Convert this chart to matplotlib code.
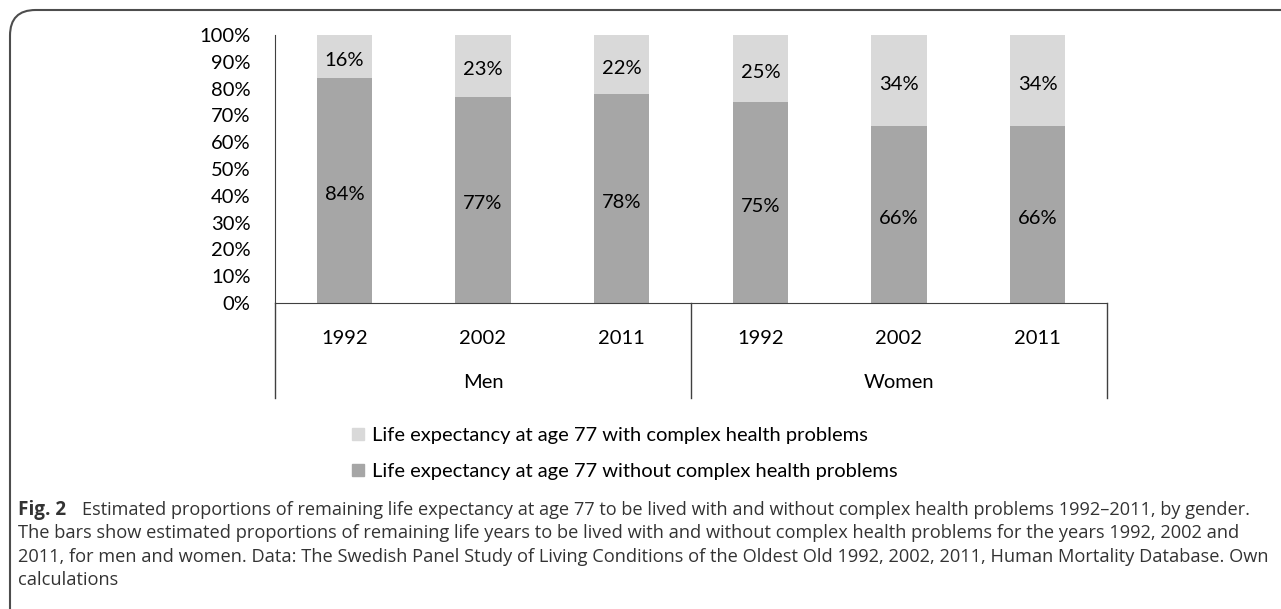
import matplotlib
matplotlib.use('Agg')
import matplotlib.pyplot as plt
from matplotlib.patches import FancyBboxPatch, Rectangle

# datos
grupos = ['Men', 'Women']
anios = ['1992', '2002', '2011', '1992', '2002', '2011']
sin_problemas = [84, 77, 78, 75, 66, 66]
con_problemas = [16, 23, 22, 25, 34, 34]
etiqueta_con = 'Life expectancy at age 77 with complex health problems'
etiqueta_sin = 'Life expectancy at age 77 without complex health problems'
yticks = list(range(0, 101, 10))

color_sin = '#a6a6a6'
color_con = '#d9d9d9'
fuente = 'Lato'
tam = 14.5

fig = plt.figure(figsize=(12.81, 6.09), dpi=100)
W, H = 1281, 609

# marco redondeado
marco = FancyBboxPatch((10 / W, -0.2), 1.2, 1 - 10 / H + 0.2,
                       boxstyle='round,pad=0,rounding_size=0.02',
                       transform=fig.transFigure, fill=False,
                       edgecolor='#4d4d4d', linewidth=1.5, mutation_aspect=W / H)
fig.patches.append(marco)

ax = fig.add_axes([275 / W, 1 - 303 / H, (1107 - 275) / W, (303 - 35) / H])
x = list(range(len(anios)))
ax.bar(x, sin_problemas, width=0.4, color=color_sin)
ax.bar(x, con_problemas, width=0.4, bottom=sin_problemas, color=color_con)

for xi, a, b in zip(x, sin_problemas, con_problemas):
    ax.text(xi, a / 2 - 1.5, f'{a}%', ha='center', va='center', fontsize=tam, family=fuente)
    ax.text(xi, a + b / 2 - 1.5, f'{b}%', ha='center', va='center', fontsize=tam, family=fuente)

ax.set_xlim(-0.5, len(anios) - 0.5)
ax.set_ylim(0, 100)
ax.set_yticks(yticks)
ax.set_yticklabels([f'{v}%' for v in yticks], fontsize=tam, family=fuente)
ax.tick_params(axis='y', length=0, pad=17.5)
ax.set_xticks([])
for s in ['top', 'right']:
    ax.spines[s].set_visible(False)
ax.spines['left'].set_color('#404040')
ax.spines['bottom'].set_color('#404040')

# etiquetas de categorias debajo del eje
escala = 268 / 100  # px por unidad
for xi, anio in zip(x, anios):
    ax.text(xi, -36 / escala, anio, ha='center', va='center', fontsize=tam,
            family=fuente, clip_on=False)
for i, g in enumerate(grupos):
    ax.text(i * 3 + 1, -80 / escala, g, ha='center', va='center', fontsize=tam,
            family=fuente, clip_on=False)
for xs in [-0.5, 2.5, 5.5]:
    ax.plot([xs, xs], [0, -95 / escala], color='#404040', linewidth=1, clip_on=False)

# leyenda manual
fig.patches.append(Rectangle((352 / W, 1 - 440 / H), 12 / W, 12 / H,
                             transform=fig.transFigure, color=color_con))
fig.text(372 / W, 1 - 435 / H, etiqueta_con, fontsize=tam, family=fuente, va='center')
fig.patches.append(Rectangle((352 / W, 1 - 476 / H), 12 / W, 12 / H,
                             transform=fig.transFigure, color=color_sin))
fig.text(372 / W, 1 - 471 / H, etiqueta_sin, fontsize=tam, family=fuente, va='center')

# pie de figura
lineas = [
    'Estimated proportions of remaining life expectancy at age 77 to be lived with and without complex health problems 1992\u20132011, by gender.',
    'The bars show estimated proportions of remaining life years to be lived with and without complex health problems for the years 1992, 2002 and',
    '2011, for men and women. Data: The Swedish Panel Study of Living Conditions of the Oldest Old 1992, 2002, 2011, Human Mortality Database. Own',
    'calculations',
]
pie = dict(family='Open Sans', va='center', color='#333333')
fig.text(18 / W, 1 - 510 / H, 'Fig. 2', fontweight='bold', fontsize=13.6, **pie)
fig.text(82 / W, 1 - 510 / H, lineas[0], fontsize=13.1, **pie)
for i, l in enumerate(lineas[1:]):
    fig.text(18 / W, 1 - (533 + 23.5 * i) / H, l, fontsize=13.15, **pie)

fig.savefig('out.png', dpi=100)
